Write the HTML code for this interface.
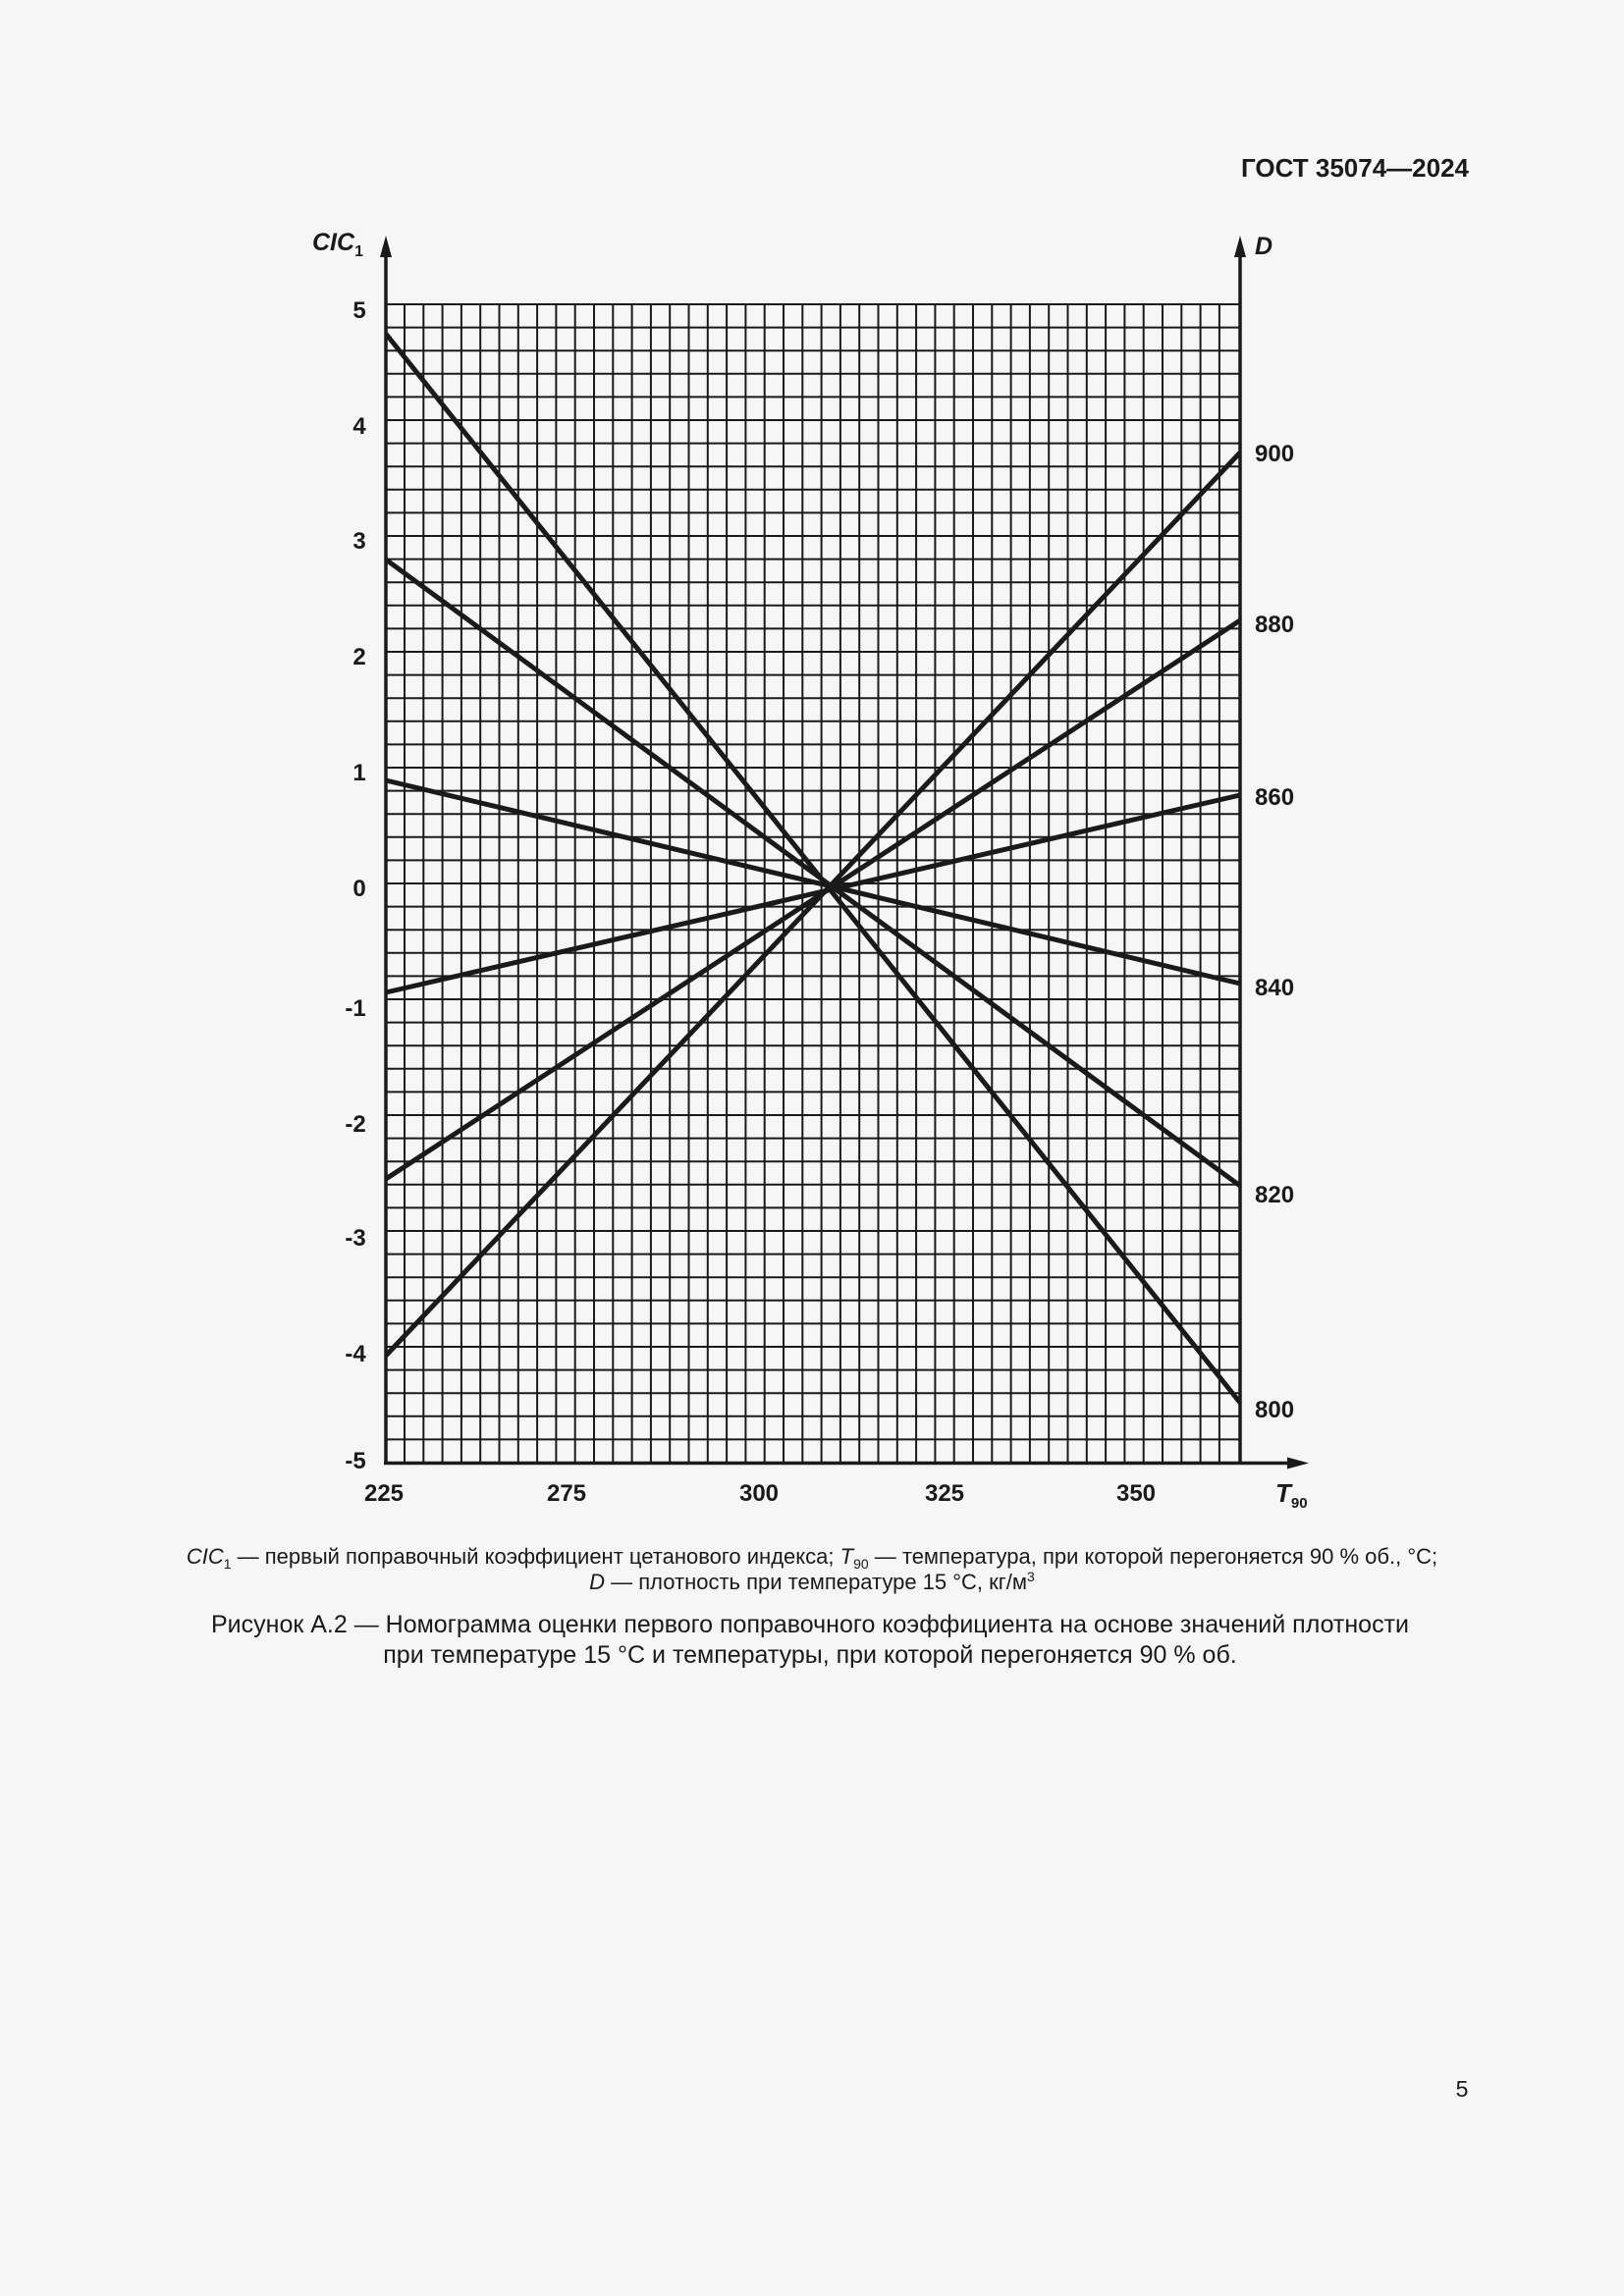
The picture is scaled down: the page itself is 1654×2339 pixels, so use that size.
<!DOCTYPE html>
<html><head><meta charset="utf-8"><style>
html,body{margin:0;padding:0;background:#f6f6f6;}
svg{display:block;}
text{font-family:"Liberation Sans",Arial,sans-serif;fill:#1a1a1a;}
</style></head><body>
<svg width="1654" height="2339" viewBox="0 0 1654 2339" xmlns="http://www.w3.org/2000/svg">
<rect width="1654" height="2339" fill="#f6f6f6"/>
<text x="1496" y="180" text-anchor="end" font-size="26" font-weight="bold">ГОСТ 35074—2024</text>
<g stroke="#1a1a1a" stroke-width="2" fill="none">
<path d="M412 310V1490M431.3 310V1490M450.6 310V1490M469.9 310V1490M489.2 310V1490M508.5 310V1490M527.8 310V1490M547.1 310V1490M566.4 310V1490M585.7 310V1490M605 310V1490M624.3 310V1490M643.6 310V1490M662.9 310V1490M682.2 310V1490M701.5 310V1490M720.8 310V1490M740.1 310V1490M759.4 310V1490M778.7 310V1490M798 310V1490M817.3 310V1490M836.6 310V1490M855.9 310V1490M875.2 310V1490M894.5 310V1490M913.8 310V1490M933.1 310V1490M952.4 310V1490M971.7 310V1490M991 310V1490M1010.3 310V1490M1029.6 310V1490M1048.9 310V1490M1068.2 310V1490M1087.5 310V1490M1106.8 310V1490M1126.1 310V1490M1145.4 310V1490M1164.7 310V1490M1184 310V1490M1203.3 310V1490M1222.6 310V1490M1241.9 310V1490"/>
<path d="M392 310H1263M392 333.6H1263M392 357.2H1263M392 380.8H1263M392 404.4H1263M392 428H1263M392 451.6H1263M392 475.2H1263M392 498.8H1263M392 522.4H1263M392 546H1263M392 569.6H1263M392 593.2H1263M392 616.8H1263M392 640.4H1263M392 664H1263M392 687.6H1263M392 711.2H1263M392 734.8H1263M392 758.4H1263M392 782H1263M392 805.6H1263M392 829.2H1263M392 852.8H1263M392 876.4H1263M392 900H1263M392 923.6H1263M392 947.2H1263M392 970.8H1263M392 994.4H1263M392 1018H1263M392 1041.6H1263M392 1065.2H1263M392 1088.8H1263M392 1112.4H1263M392 1136H1263M392 1159.6H1263M392 1183.2H1263M392 1206.8H1263M392 1230.4H1263M392 1254H1263M392 1277.6H1263M392 1301.2H1263M392 1324.8H1263M392 1348.4H1263M392 1372H1263M392 1395.6H1263M392 1419.2H1263M392 1442.8H1263M392 1466.4H1263"/>
</g>
<g stroke="#1a1a1a" fill="none">
<line x1="393" y1="255" x2="393" y2="1491" stroke-width="3.5"/>
<line x1="1263" y1="255" x2="1263" y2="1491" stroke-width="3.5"/>
<line x1="391" y1="1490.5" x2="1315" y2="1490.5" stroke-width="3.5"/>
<g stroke-width="5">
<line x1="393" y1="340" x2="1263" y2="1429"/>
<line x1="393" y1="570" x2="1263" y2="1208"/>
<line x1="393" y1="795" x2="1263" y2="1002"/>
<line x1="393" y1="1011" x2="1263" y2="810"/>
<line x1="393" y1="1201" x2="1263" y2="632"/>
<line x1="393" y1="1381" x2="1263" y2="461"/>
</g></g>
<g fill="#1a1a1a">
<polygon points="393,240 387,262 399,262"/>
<polygon points="1263,240 1257,262 1269,262"/>
<polygon points="1333,1490.5 1311,1484.5 1311,1496.5"/>
</g>
<text x="318" y="255" font-size="25" font-weight="bold" font-style="italic">CIC<tspan font-size="16" dy="6" font-style="normal">1</tspan></text>
<text x="1278" y="259" font-size="25" font-weight="bold" font-style="italic">D</text>
<g font-size="24" font-weight="bold" text-anchor="middle">
<text x="366" y="324">5</text><text x="366" y="442">4</text><text x="366" y="559">3</text>
<text x="366" y="677">2</text><text x="366" y="795">1</text><text x="366" y="913">0</text>
<text x="362" y="1035">-1</text><text x="362" y="1153">-2</text><text x="362" y="1269">-3</text>
<text x="362" y="1387">-4</text><text x="362" y="1496">-5</text>
<text x="391" y="1529">225</text><text x="577" y="1529">275</text><text x="773" y="1529">300</text>
<text x="962" y="1529">325</text><text x="1157" y="1529">350</text>
</g>
<g font-size="24" font-weight="bold">
<text x="1278" y="470">900</text><text x="1278" y="644">880</text><text x="1278" y="820">860</text>
<text x="1278" y="1014">840</text><text x="1278" y="1225">820</text><text x="1278" y="1444">800</text>
</g>
<text x="1299" y="1530" font-size="26" font-weight="bold" font-style="italic">T<tspan font-size="15" dy="6" font-style="normal">90</tspan></text>
<g font-size="22" text-anchor="middle">
<text x="827" y="1593"><tspan font-style="italic">CIC</tspan><tspan font-size="14" dy="5">1</tspan><tspan dy="-5"> — первый поправочный коэффициент цетанового индекса; </tspan><tspan font-style="italic">T</tspan><tspan font-size="14" dy="5">90</tspan><tspan dy="-5"> — температура, при которой перегоняется 90 % об., °C;</tspan></text>
<text x="827" y="1619"><tspan font-style="italic">D</tspan> — плотность при температуре 15 °C, кг/м<tspan font-size="14" dy="-8">3</tspan></text>
</g>
<g font-size="25" text-anchor="middle">
<text x="825" y="1663">Рисунок А.2 — Номограмма оценки первого поправочного коэффициента на основе значений плотности</text>
<text x="825" y="1694">при температуре 15 °С и температуры, при которой перегоняется 90 % об.</text>
</g>
<text x="1489" y="2136" font-size="23" text-anchor="middle">5</text>
</svg>
</body></html>
